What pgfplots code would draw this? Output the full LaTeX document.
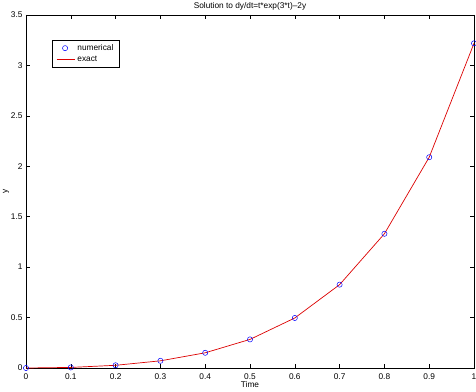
\documentclass[border=0pt]{standalone}
\usepackage{pgfplots}
\pgfplotsset{compat=1.18}
\usepackage{fontspec}
\setmainfont{Liberation Sans}
\definecolor{exactred}{RGB}{220,0,0}
\pgfplotsset{redleg/.style={legend image code/.code={\draw[exactred, line width=0.8pt] (0cm,0cm) -- (0.65cm,0cm);}}}
\begin{document}
\begin{tikzpicture}
\begin{axis}[
  scale only axis, width=448bp, height=353bp,
  at={(0,0)}, anchor=south west,
  xmin=0, xmax=1, ymin=0, ymax=3.5,
  xtick={0,0.1,...,1.0}, ytick={0,0.5,...,3.5},
  xticklabels={0,0.1,0.2,0.3,0.4,0.5,0.6,0.7,0.8,0.9,1},
  yticklabels={0,0.5,1,1.5,2,2.5,3,3.5},
  tick align=inside, tick style={black, line width=0.5pt}, major tick length=4bp,
  axis line style={black, line width=0.6pt},
  tick label style={font=\fontsize{8.3bp}{9bp}\selectfont},
  /pgf/number format/assume math mode=true,
  xticklabel style={yshift=-2bp},
  yticklabel style={xshift=0bp},
  title={Solution to dy/dt=t*exp(3*t)--2y},
  title style={font=\fontsize{8.3bp}{9bp}\selectfont, yshift=-5bp},
  xlabel={Time}, ylabel={y},
  xlabel style={font=\fontsize{8.3bp}{9bp}\selectfont, yshift=5bp},
  ylabel style={font=\fontsize{8.3bp}{9bp}\selectfont, yshift=-5bp},
  legend style={at={(rel axis cs:0.058,0.93)}, anchor=north west, font=\fontsize{8.3bp}{9bp}\selectfont,
    draw=black, inner xsep=4bp, inner ysep=2.5bp, row sep=0bp},
  legend cell align=left,
]
\addplot[only marks, mark=o, mark size=2.6bp, color=blue, line width=0.5pt]
  coordinates {
  (0,0) (0.1,0.00575) (0.2,0.02681) (0.3,0.07114) (0.4,0.15078) (0.5,0.28362)
  (0.6,0.49602) (0.7,0.82648) (0.8,1.33086) (0.9,2.08977) (1.0,3.21910)};
\addlegendentry{numerical}
\addplot[color=exactred, line width=0.7pt, mark=none, redleg]
  coordinates {
  (0,0) (0.1,0.00575) (0.2,0.02681) (0.3,0.07114) (0.4,0.15078) (0.5,0.28362)
  (0.6,0.49602) (0.7,0.82648) (0.8,1.33086) (0.9,2.08977) (1.0,3.21910)};
\addlegendentry{exact}
\end{axis}
\pgfresetboundingbox
\path[use as bounding box] (-26bp,-24bp) rectangle (450bp,368bp);
\end{tikzpicture}
\end{document}
